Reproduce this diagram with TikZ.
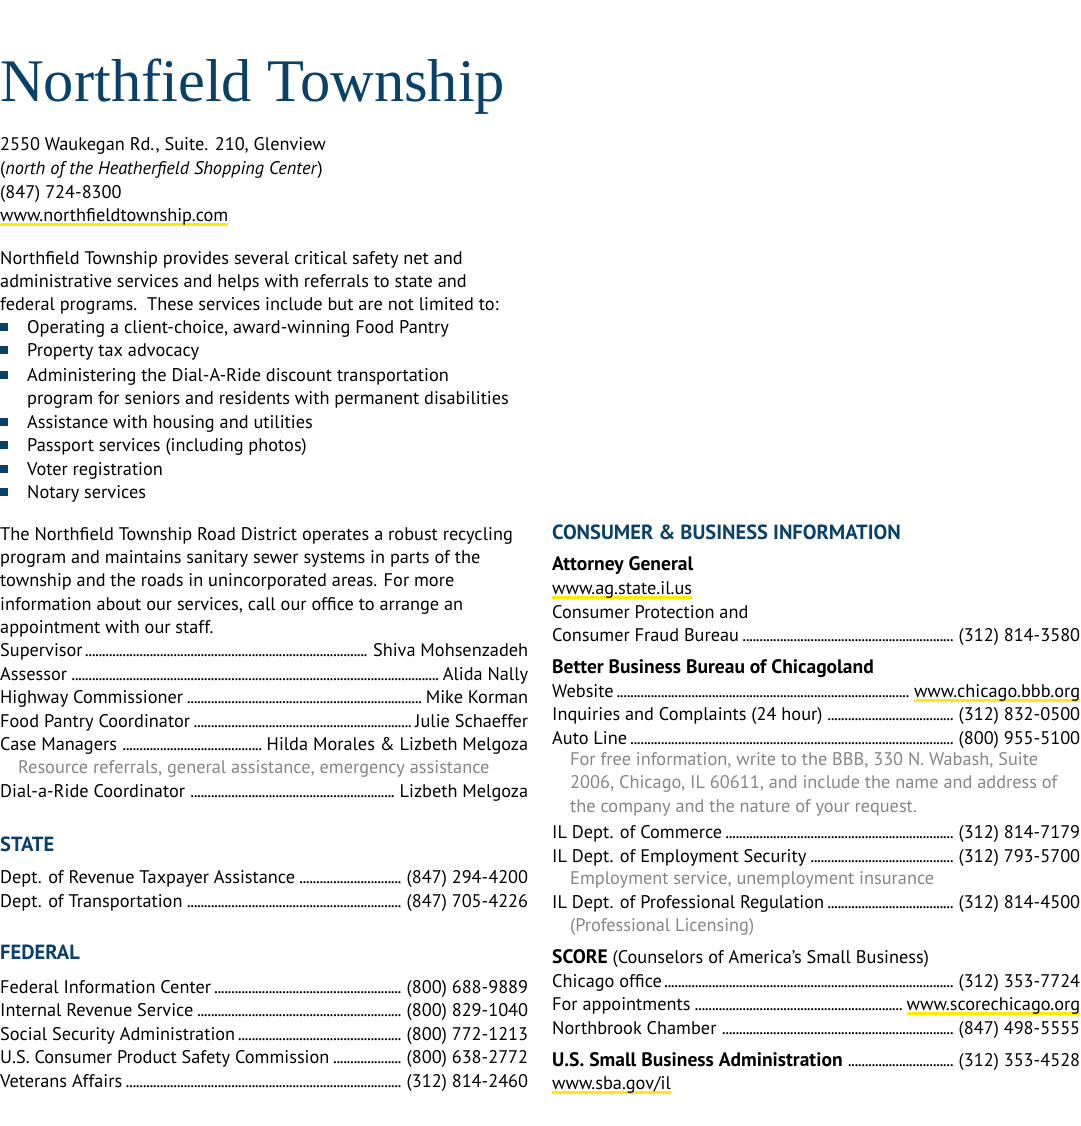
\documentclass[tikz,border=0pt]{standalone}
\usepackage{fontspec}
\setmainfont{PT Sans}
\newfontfamily\titlefont{Liberation Serif}
\definecolor{tblue}{HTML}{0B4068}
\definecolor{yel}{HTML}{FFEC00}
\definecolor{gr}{HTML}{858585}
\newsavebox\lkbox
\newcommand\ylink[1]{\sbox\lkbox{#1}\rlap{\color{yel}\rule[-5pt]{\wd\lkbox}{3.5pt}}\usebox\lkbox}
\newcommand\mydots{\hspace{2.5pt}\leaders\hbox to 3.4pt{\hss.\hss}\hfill\hspace{2.5pt}}
\newcommand\bodyf{\fontsize{18.3}{20}\selectfont}
\tikzset{txt/.style={anchor=base west, inner sep=0pt, font=\bodyf},
 head/.style={txt, font=\fontsize{20.5}{22}\selectfont\bfseries, text=tblue},
 bhead/.style={txt, font=\fontsize{19.5}{22}\selectfont\bfseries},
 grey/.style={txt, text=gr},
 bul/.style={fill=tblue, minimum size=8pt, inner sep=0pt}}
\newcommand\ld[4]{\node[txt] (#1) at (#2) {\makebox[528pt][s]{#3\mydots#4}};}
\begin{document}
\begin{tikzpicture}[x=1pt,y=-1pt]
\useasboundingbox (0,0) rectangle (1080,1126);
\node[txt, font=\titlefont\fontsize{60.5}{62}\selectfont, text=tblue] (title) at (0,102) {Northfield Township};
\node[txt] (a1) at (0,151) {2550 Waukegan Rd., Suite. 210, Glenview};
\node[txt] (a2) at (0,175) {(\textit{north of the Heatherfield Shopping Center})};
\node[txt] (a3) at (0,198) {(847) 724-8300};
\node[txt] (a4) at (0,221) {\ylink{www.northfieldtownship.com}};
\node[txt] (p1) at (0,264) {Northfield Township provides several critical safety net and};
\node[txt] (p2) at (0,287) {administrative services and helps with referrals to state and};
\node[txt] (p3) at (0,310) {federal programs.\ \ These services include but are not limited to:};
\foreach \y/\t [count=\i] in {333/{Operating a client-choice, award-winning Food Pantry},356/{Property tax advocacy},381/{Administering the Dial-A-Ride discount transportation},428/{Assistance with housing and utilities},451/{Passport services (including photos)},475/{Voter registration},498/{Notary services}}{
 \node[bul] (b\i) at (4,\y-6) {};
 \node[txt] (bt\i) at (27,\y) {\t};}
\node[txt] (bt3b) at (27,404) {program for seniors and residents with permanent disabilities};
\node[txt] (r1) at (0,540) {The Northfield Township Road District operates a robust recycling};
\node[txt] (r2) at (0,563) {program and maintains sanitary sewer systems in parts of the};
\node[txt] (r3) at (0,586) {township and the roads in unincorporated areas. For more};
\node[txt] (r4) at (0,610) {information about our services, call our office to arrange an};
\node[txt] (r5) at (0,633) {appointment with our staff.};
\ld{s1}{0,656}{Supervisor}{Shiva Mohsenzadeh}
\ld{s2}{0,680}{Assessor}{Alida Nally}
\ld{s3}{0,703}{Highway Commissioner}{Mike Korman}
\ld{s4}{0,727}{Food Pantry Coordinator}{Julie Schaeffer}
\ld{s5}{0,750}{Case Managers}{Hilda Morales \& Lizbeth Melgoza}
\node[grey] (s6) at (18,773) {Resource referrals, general assistance, emergency assistance};
\ld{s7}{0,797}{Dial-a-Ride Coordinator}{Lizbeth Melgoza}
\node[head] (st) at (0,851) {STATE};
\ld{st1}{0,883}{Dept. of Revenue Taxpayer Assistance}{(847) 294-4200}
\ld{st2}{0,907}{Dept. of Transportation}{(847) 705-4226}
\node[head] (fe) at (0,959) {FEDERAL};
\ld{f1}{0,993}{Federal Information Center}{(800) 688-9889}
\ld{f2}{0,1016}{Internal Revenue Service}{(800) 829-1040}
\ld{f3}{0,1040}{Social Security Administration}{(800) 772-1213}
\ld{f4}{0,1063}{U.S. Consumer Product Safety Commission}{(800) 638-2772}
\ld{f5}{0,1087}{Veterans Affairs}{(312) 814-2460}
% right column
\node[head] (cb) at (552,539) {CONSUMER \& BUSINESS INFORMATION};
\node[bhead] (ag) at (552,570) {Attorney General};
\node[txt] (ag1) at (552,594) {\ylink{www.ag.state.il.us}};
\node[txt] (ag2) at (552,618) {Consumer Protection and};
\ld{ag3}{552,641}{Consumer Fraud Bureau}{(312) 814-3580}
\node[bhead] (bb) at (552,673) {Better Business Bureau of Chicagoland};
\ld{bb1}{552,697}{Website}{\ylink{www.chicago.bbb.org}}
\ld{bb2}{552,720}{Inquiries and Complaints (24 hour)}{(312) 832-0500}
\ld{bb3}{552,744}{Auto Line}{(800) 955-5100}
\node[grey] (bb4) at (570,765) {For free information, write to the BBB, 330 N. Wabash, Suite};
\node[grey] (bb5) at (570,788) {2006, Chicago, IL 60611, and include the name and address of};
\node[grey] (bb6) at (570,812) {the company and the nature of your request.};
\ld{il1}{552,838}{IL Dept. of Commerce}{(312) 814-7179}
\ld{il2}{552,862}{IL Dept. of Employment Security}{(312) 793-5700}
\node[grey] (il3) at (570,884) {Employment service, unemployment insurance};
\ld{il4}{552,908}{IL Dept. of Professional Regulation}{(312) 814-4500}
\node[grey] (il5) at (570,931) {(Professional Licensing)};
\node[txt] (sc) at (552,963) {{\fontsize{19.5}{22}\selectfont\bfseries SCORE} (Counselors of America’s Small Business)};
\ld{sc1}{552,987}{Chicago office}{(312) 353-7724}
\ld{sc2}{552,1010}{For appointments}{\ylink{www.scorechicago.org}}
\ld{sc3}{552,1034}{Northbrook Chamber}{(847) 498-5555}
\ld{sb}{552,1066}{{\fontsize{19.5}{22}\selectfont\bfseries U.S. Small Business Administration}}{(312) 353-4528}
\node[txt] (sb1) at (552,1089) {\ylink{www.sba.gov/il}};
\end{tikzpicture}
\end{document}
